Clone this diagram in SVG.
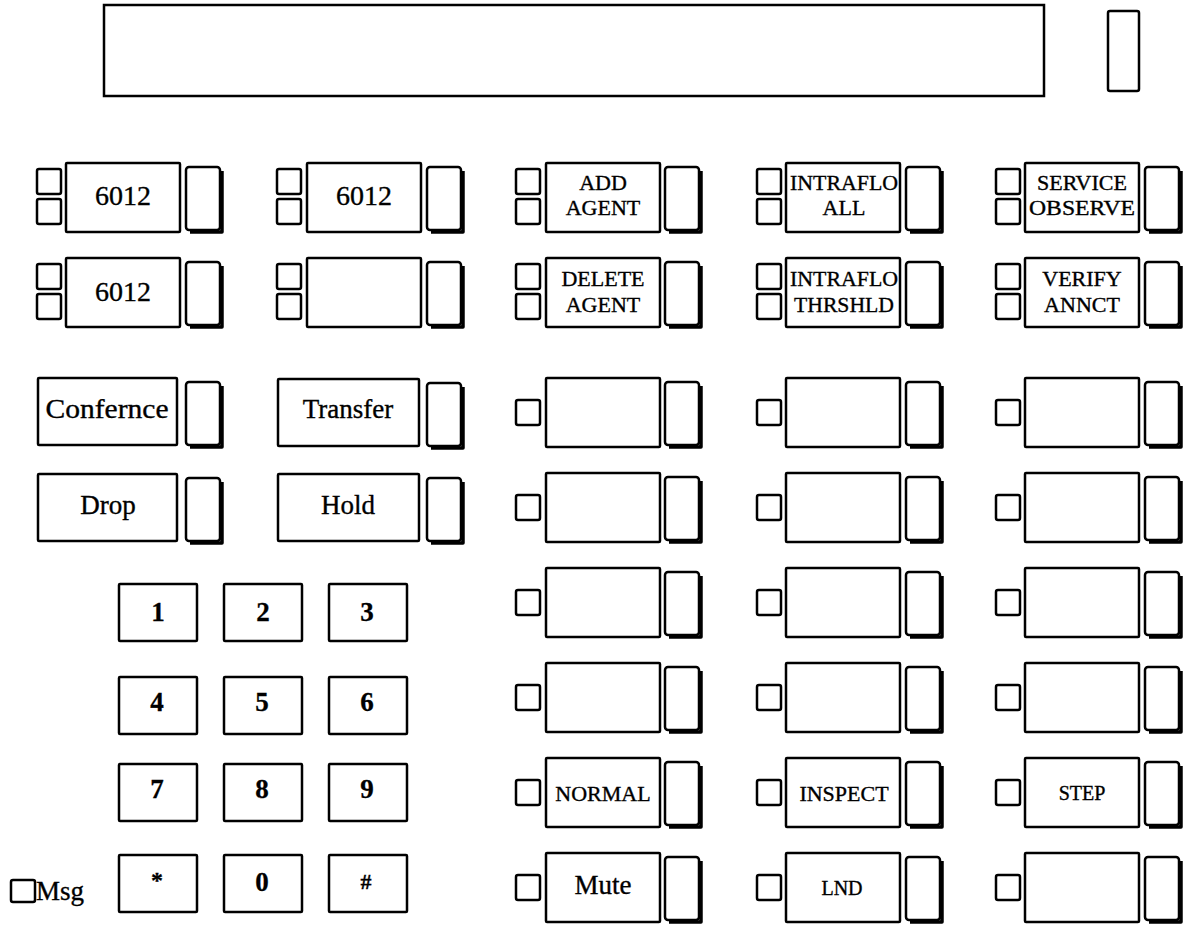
<svg xmlns="http://www.w3.org/2000/svg" xmlns:xlink="http://www.w3.org/1999/xlink" width="1184" height="928" viewBox="0 0 1184 928">
<style>
.o{fill:#fff;stroke:#000;stroke-width:2.5}
.s{fill:none;stroke:#000;stroke-width:3.5;stroke-linejoin:round}
text{font-family:"Liberation Serif","DejaVu Serif",serif;fill:#000;stroke:#000;stroke-width:0.35;text-anchor:middle}
.l{font-size:27px}
.m{font-size:22px}
.sm{font-size:20px}
.k{font-size:27px;font-weight:bold;stroke-width:0.3}
</style>
<defs>
<g id="tall"><rect class="o" x="0" y="0" width="34" height="63" rx="3"/><path class="s" d="M36,4 V65 H4"/></g>
<rect id="box" class="o" x="0" y="0" width="114" height="69" rx="1"/>
<rect id="led" class="o" x="0" y="0" width="24" height="25" rx="2"/>
<rect id="key" class="o" x="0" y="0" width="78" height="57" rx="1"/>
</defs>
<rect width="1184" height="928" fill="#fff"/>
<g id="display"><rect class="o" x="104" y="5" width="940" height="91"/><rect class="o" x="1108" y="11" width="31" height="80" rx="2"/></g>

<g id="c1r1"><use xlink:href="#led" x="37" y="169"/><use xlink:href="#led" x="37" y="199"/><use xlink:href="#box" x="66" y="163"/><use xlink:href="#tall" x="186" y="167"/><text class="l" x="123" y="205" style="font-size:28px">6012</text></g>
<g id="c2r1"><use xlink:href="#led" x="277" y="169"/><use xlink:href="#led" x="277" y="199"/><use xlink:href="#box" x="307" y="163"/><use xlink:href="#tall" x="427" y="167"/><text class="l" x="364" y="205" style="font-size:28px">6012</text></g>
<g id="c3r1"><use xlink:href="#led" x="516" y="169"/><use xlink:href="#led" x="516" y="199"/><use xlink:href="#box" x="546" y="163"/><use xlink:href="#tall" x="665" y="167"/><text class="m" x="603" y="190">ADD</text><text class="m" x="603" y="215">AGENT</text></g>
<g id="c4r1"><use xlink:href="#led" x="757" y="169"/><use xlink:href="#led" x="757" y="199"/><use xlink:href="#box" x="786" y="163"/><use xlink:href="#tall" x="906" y="167"/><text class="m" x="844" y="190" textLength="108" lengthAdjust="spacingAndGlyphs">INTRAFLO</text><text class="m" x="844" y="215">ALL</text></g>
<g id="c5r1"><use xlink:href="#led" x="996" y="169"/><use xlink:href="#led" x="996" y="199"/><use xlink:href="#box" x="1025" y="163"/><use xlink:href="#tall" x="1145" y="167"/><text class="m" x="1082" y="190">SERVICE</text><text class="m" x="1082" y="215" textLength="106" lengthAdjust="spacingAndGlyphs">OBSERVE</text></g>

<g id="c1r2"><use xlink:href="#led" x="37" y="264"/><use xlink:href="#led" x="37" y="294"/><use xlink:href="#box" x="66" y="258"/><use xlink:href="#tall" x="186" y="262"/><text class="l" x="123" y="301" style="font-size:28px">6012</text></g>
<g id="c2r2"><use xlink:href="#led" x="277" y="264"/><use xlink:href="#led" x="277" y="294"/><use xlink:href="#box" x="307" y="258"/><use xlink:href="#tall" x="427" y="262"/></g>
<g id="c3r2"><use xlink:href="#led" x="516" y="264"/><use xlink:href="#led" x="516" y="294"/><use xlink:href="#box" x="546" y="258"/><use xlink:href="#tall" x="665" y="262"/><text class="m" x="603" y="286">DELETE</text><text class="m" x="603" y="312">AGENT</text></g>
<g id="c4r2"><use xlink:href="#led" x="757" y="264"/><use xlink:href="#led" x="757" y="294"/><use xlink:href="#box" x="786" y="258"/><use xlink:href="#tall" x="906" y="262"/><text class="m" x="844" y="286" textLength="108" lengthAdjust="spacingAndGlyphs">INTRAFLO</text><text class="m" x="844" y="312" textLength="100" lengthAdjust="spacingAndGlyphs">THRSHLD</text></g>
<g id="c5r2"><use xlink:href="#led" x="996" y="264"/><use xlink:href="#led" x="996" y="294"/><use xlink:href="#box" x="1025" y="258"/><use xlink:href="#tall" x="1145" y="262"/><text class="m" x="1082" y="286">VERIFY</text><text class="m" x="1082" y="312">ANNCT</text></g>

<g id="conference"><rect class="o" x="38" y="378" width="139" height="67" rx="1"/><use xlink:href="#tall" x="186" y="382"/><text class="l" x="107" y="418" textLength="123" lengthAdjust="spacingAndGlyphs">Confernce</text></g>
<g id="transfer"><rect class="o" x="278" y="379" width="141" height="67" rx="1"/><use xlink:href="#tall" x="427" y="383"/><text class="l" x="348" y="418">Transfer</text></g>
<g id="drop"><rect class="o" x="38" y="474" width="139" height="67" rx="1"/><use xlink:href="#tall" x="186" y="478"/><text class="l" x="108" y="514">Drop</text></g>
<g id="hold"><rect class="o" x="278" y="474" width="141" height="67" rx="1"/><use xlink:href="#tall" x="427" y="478"/><text class="l" x="348" y="514">Hold</text></g>

<g id="c3r3"><use xlink:href="#led" x="516" y="400"/><use xlink:href="#box" x="546" y="378"/><use xlink:href="#tall" x="665" y="382"/></g>
<g id="c4r3"><use xlink:href="#led" x="757" y="400"/><use xlink:href="#box" x="786" y="378"/><use xlink:href="#tall" x="906" y="382"/></g>
<g id="c5r3"><use xlink:href="#led" x="996" y="400"/><use xlink:href="#box" x="1025" y="378"/><use xlink:href="#tall" x="1145" y="382"/></g>
<g id="c3r4"><use xlink:href="#led" x="516" y="495"/><use xlink:href="#box" x="546" y="473"/><use xlink:href="#tall" x="665" y="477"/></g>
<g id="c4r4"><use xlink:href="#led" x="757" y="495"/><use xlink:href="#box" x="786" y="473"/><use xlink:href="#tall" x="906" y="477"/></g>
<g id="c5r4"><use xlink:href="#led" x="996" y="495"/><use xlink:href="#box" x="1025" y="473"/><use xlink:href="#tall" x="1145" y="477"/></g>
<g id="c3r5"><use xlink:href="#led" x="516" y="590"/><use xlink:href="#box" x="546" y="568"/><use xlink:href="#tall" x="665" y="572"/></g>
<g id="c4r5"><use xlink:href="#led" x="757" y="590"/><use xlink:href="#box" x="786" y="568"/><use xlink:href="#tall" x="906" y="572"/></g>
<g id="c5r5"><use xlink:href="#led" x="996" y="590"/><use xlink:href="#box" x="1025" y="568"/><use xlink:href="#tall" x="1145" y="572"/></g>
<g id="c3r6"><use xlink:href="#led" x="516" y="685"/><use xlink:href="#box" x="546" y="663"/><use xlink:href="#tall" x="665" y="667"/></g>
<g id="c4r6"><use xlink:href="#led" x="757" y="685"/><use xlink:href="#box" x="786" y="663"/><use xlink:href="#tall" x="906" y="667"/></g>
<g id="c5r6"><use xlink:href="#led" x="996" y="685"/><use xlink:href="#box" x="1025" y="663"/><use xlink:href="#tall" x="1145" y="667"/></g>
<g id="normal"><use xlink:href="#led" x="516" y="780"/><use xlink:href="#box" x="546" y="758"/><use xlink:href="#tall" x="665" y="762"/><text class="m" x="603" y="801">NORMAL</text></g>
<g id="inspect"><use xlink:href="#led" x="757" y="780"/><use xlink:href="#box" x="786" y="758"/><use xlink:href="#tall" x="906" y="762"/><text class="m" x="844" y="801">INSPECT</text></g>
<g id="step"><use xlink:href="#led" x="996" y="780"/><use xlink:href="#box" x="1025" y="758"/><use xlink:href="#tall" x="1145" y="762"/><text class="sm" x="1082" y="800">STEP</text></g>
<g id="mute"><use xlink:href="#led" x="516" y="875"/><use xlink:href="#box" x="546" y="853"/><use xlink:href="#tall" x="665" y="857"/><text class="l" x="603" y="894">Mute</text></g>
<g id="lnd"><use xlink:href="#led" x="757" y="875"/><use xlink:href="#box" x="786" y="853"/><use xlink:href="#tall" x="906" y="857"/><text class="sm" x="842" y="895">LND</text></g>
<g id="c5r8"><use xlink:href="#led" x="996" y="875"/><use xlink:href="#box" x="1025" y="853"/><use xlink:href="#tall" x="1145" y="857"/></g>

<g id="keypad">
<use xlink:href="#key" x="119" y="584"/><text class="k" x="158" y="621">1</text>
<use xlink:href="#key" x="224" y="584"/><text class="k" x="263" y="621">2</text>
<use xlink:href="#key" x="329" y="584"/><text class="k" x="367" y="621">3</text>
<use xlink:href="#key" x="119" y="677"/><text class="k" x="157" y="711">4</text>
<use xlink:href="#key" x="224" y="677"/><text class="k" x="262" y="711">5</text>
<use xlink:href="#key" x="329" y="677"/><text class="k" x="367" y="711">6</text>
<use xlink:href="#key" x="119" y="764"/><text class="k" x="157" y="798">7</text>
<use xlink:href="#key" x="224" y="764"/><text class="k" x="262" y="798">8</text>
<use xlink:href="#key" x="329" y="764"/><text class="k" x="367" y="798">9</text>
<use xlink:href="#key" x="119" y="855"/><text class="k" x="157" y="888" style="font-size:24px">*</text>
<use xlink:href="#key" x="224" y="855"/><text class="k" x="262" y="891">0</text>
<use xlink:href="#key" x="329" y="855"/><text class="k" x="366" y="889" style="font-size:22px">#</text>
</g>
<g id="msg"><rect class="o" x="11" y="880" width="24" height="22" rx="2"/><text class="l" x="36" y="900" style="text-anchor:start">Msg</text></g>
</svg>
